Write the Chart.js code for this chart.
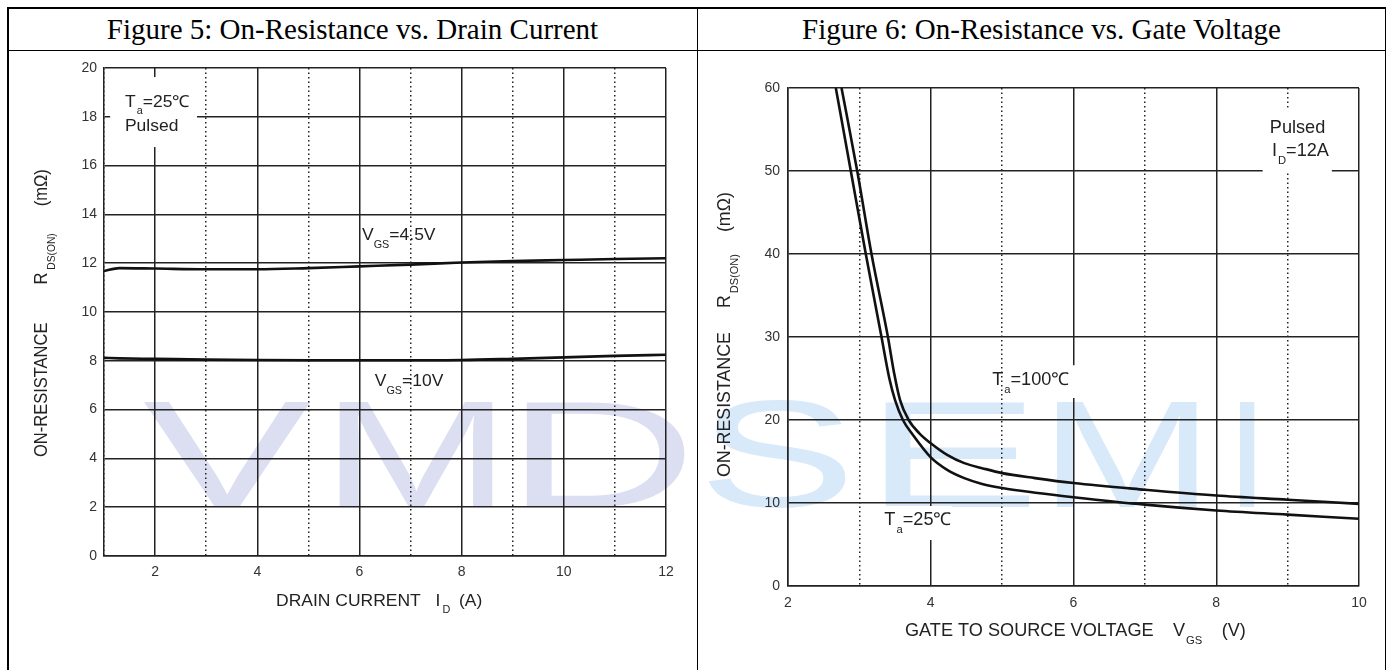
<!DOCTYPE html>
<html>
<head>
<meta charset="utf-8">
<script src="https://cdn.jsdelivr.net/npm/chart.js@4.4.0/dist/chart.umd.min.js"></script>
<style>
  html, body { margin: 0; padding: 0; background: #fff; width: 1391px; height: 670px; overflow: hidden; }
  .line { position: absolute; background: #000; }
  .head { position: absolute; top: 8px; height: 42px; line-height: 42px; text-align: center;
          font-family: "Liberation Serif", "Times New Roman", serif; font-size: 29px; color: #000; z-index: 2; }
  .wm { position: absolute; top: 378px; font-family: "Liberation Sans", Arial, sans-serif; font-size: 152px;
        line-height: 152px; transform-origin: 0 0; z-index: 0; }
  .box { position: absolute; top: 51px; z-index: 1; }
</style>
</head>
<body>

<!-- watermark behind the charts -->
<div class="wm" style="left:143px;color:#dcdef2;transform:scaleX(1.66)">V</div>
<div class="wm" style="left:321px;color:#dcdef2;transform:scaleX(1.5)">M</div>
<div class="wm" style="left:505px;color:#dcdef2;transform:scaleX(1.75)">D</div>
<div class="wm" style="left:698px;color:#d8e9f9;transform:scaleX(1.56)">S</div>
<div class="wm" style="left:864px;color:#d8e9f9;transform:scaleX(1.74)">E</div>
<div class="wm" style="left:1040px;color:#d8e9f9;transform:scaleX(1.37)">M</div>
<div class="wm" style="left:1226px;color:#d8e9f9">I</div>

<!-- table frame -->
<div class="line" style="left:7px;top:7px;width:1379px;height:1.5px"></div>
<div class="line" style="left:7px;top:49.5px;width:1379px;height:1.5px"></div>
<div class="line" style="left:7px;top:7px;width:1.5px;height:663px"></div>
<div class="line" style="left:696.5px;top:7px;width:1.5px;height:663px"></div>
<div class="line" style="left:1384.5px;top:7px;width:1.5px;height:663px"></div>

<div class="head" style="left:8px;width:689px">Figure 5: On-Resistance vs. Drain Current</div>
<div class="head" style="left:698px;width:687px">Figure 6: On-Resistance vs. Gate Voltage</div>

<div class="box" style="left:8px"><canvas id="fig5" width="688" height="619"></canvas></div>
<div class="box" style="left:698px"><canvas id="fig6" width="686" height="619"></canvas></div>

<script>
// Figure 5: R_DS(on) vs drain current (Ta = 25C, pulsed)
const drainCurrent = [1, 1.3, 2, 3, 4, 5, 6, 7, 8, 9, 10, 11, 12];
const rdsVgs45 = [11.68, 11.8, 11.78, 11.75, 11.75, 11.8, 11.87, 11.94, 12.03, 12.09, 12.13, 12.17, 12.2];
const rdsVgs10 = [8.12, 8.1, 8.08, 8.05, 8.03, 8.02, 8.02, 8.02, 8.03, 8.08, 8.14, 8.2, 8.25];

// Figure 6: R_DS(on) vs gate voltage (ID = 12A, pulsed)
const vgs25 = [2.67, 2.88, 3.09, 3.31, 3.42, 3.50, 3.61, 3.75, 4.0, 4.23, 4.47, 4.72, 5.0, 5.5, 6.0, 7.0, 8.0, 9.0, 10.0];
const rds25 = [60, 50, 40, 30, 25, 22.4, 20, 18.2, 15.5, 14.0, 13.0, 12.3, 11.8, 11.2, 10.7, 9.8, 9.1, 8.6, 8.1];
const vgs100 = [2.75, 2.97, 3.17, 3.40, 3.49, 3.57, 3.69, 3.84, 4.0, 4.23, 4.47, 4.72, 5.0, 5.46, 6.0, 7.0, 8.0, 9.0, 10.0];
const rds100 = [60, 50, 40, 30, 25.5, 22.4, 20, 18.4, 17.2, 15.8, 14.8, 14.2, 13.6, 13.0, 12.4, 11.6, 10.9, 10.4, 9.9];

const fig5XTicks = [2, 4, 6, 8, 10, 12];
const fig6XTicks = [2, 4, 6, 8, 10];

const FONT = '"Liberation Sans", Arial, sans-serif';

const toPoints = (xs, ys) => xs.map((x, i) => ({ x: x, y: ys[i] }));
const txt = s => ({ t: s });
const sub = s => ({ t: s, sub: true });
const gap = g => ({ g: g });

// draw text pieces with subscripts, starting at the current origin
function drawRich(ctx, parts, size) {
  let x = 0;
  for (const p of parts) {
    if (p.g) { x += p.g; continue; }
    const fs = p.sub ? size * 0.62 : size;
    ctx.font = fs + 'px ' + FONT;
    ctx.fillText(p.t, x, p.sub ? size * 0.55 : 0);
    x += ctx.measureText(p.t).width;
  }
}

// annotations, white label boxes and axis titles for one chart
function notesPlugin(notes) {
  return {
    id: 'notes',
    afterDraw(chart) {
      const ctx = chart.ctx, xs = chart.scales.x, ys = chart.scales.y;
      ctx.save();
      ctx.fillStyle = '#fff';
      for (const b of notes.boxes) {
        const x1 = xs.getPixelForValue(b[0]), x2 = xs.getPixelForValue(b[1]);
        const y1 = ys.getPixelForValue(b[2]), y2 = ys.getPixelForValue(b[3]);
        ctx.fillRect(x1, y1, x2 - x1, y2 - y1);
      }
      ctx.fillStyle = '#222';
      ctx.textBaseline = 'middle';
      ctx.textAlign = 'left';
      for (const n of notes.labels) {
        ctx.save();
        ctx.translate(xs.getPixelForValue(n.x), ys.getPixelForValue(n.y));
        ctx.scale(notes.stretch, 1);
        drawRich(ctx, n.parts, notes.size);
        ctx.restore();
      }
      ctx.save();
      ctx.translate(notes.xTitle.x, notes.xTitle.y);
      ctx.scale(notes.stretch, 1);
      drawRich(ctx, notes.xTitle.parts, notes.size);
      ctx.restore();
      ctx.save();
      ctx.translate(notes.yTitle.x, notes.yTitle.y);
      ctx.scale(notes.stretch, 1);
      ctx.rotate(-Math.PI / 2);
      drawRich(ctx, notes.yTitle.parts, notes.size);
      ctx.restore();
      ctx.restore();
    }
  };
}

function axis(min, max, step, labels, pad) {
  return {
    type: 'linear', min: min, max: max,
    ticks: {
      stepSize: step, autoSkip: false, maxRotation: 0, padding: pad, color: '#333',
      font: { family: FONT, size: 14 },
      callback: v => (labels === null || labels.includes(v)) ? v : ''
    },
    grid: { color: '#222', lineWidth: 1.5, drawTicks: false },
    border: {
      display: true, color: '#222', width: 1.5,
      dash: c => (c.tick && labels !== null && !labels.includes(c.tick.value)) ? [1.5, 3] : []
    }
  };
}

function curve(points) {
  return {
    data: points, borderColor: '#111', borderWidth: 2.6, pointRadius: 0,
    fill: false, cubicInterpolationMode: 'monotone'
  };
}

function makeChart(id, datasets, xAxis, yAxis, layout, notes) {
  xAxis.afterFit = s => { s.height = layout.xh; };
  yAxis.afterFit = s => { s.width = layout.yw; };
  return new Chart(document.getElementById(id), {
    type: 'line',
    data: { datasets: datasets },
    options: {
      responsive: false, animation: false,
      layout: { padding: { top: layout.top, right: layout.right, left: 0, bottom: 0 } },
      scales: { x: xAxis, y: yAxis },
      plugins: { legend: { display: false }, tooltip: { enabled: false } }
    },
    plugins: [notesPlugin(notes)]
  });
}

makeChart('fig5',
  [curve(toPoints(drainCurrent, rdsVgs45)), curve(toPoints(drainCurrent, rdsVgs10))],
  axis(1, 12, 1, fig5XTicks, 8),
  axis(0, 20, 2, null, 7),
  { xh: 114, yw: 96, top: 17, right: 30 },
  {
    size: 16.5, stretch: 1.06,
    boxes: [[1.12, 2.82, 19.63, 16.76]],
    labels: [
      { x: 1.41, y: 18.6, parts: [txt('T'), gap(1), sub('a'), txt('=25℃')] },
      { x: 1.41, y: 17.6, parts: [txt('Pulsed')] },
      { x: 6.05, y: 13.12, parts: [txt('V'), sub('GS'), txt('=4.5V')] },
      { x: 6.3, y: 7.14, parts: [txt('V'), sub('GS'), txt('=10V')] }
    ],
    xTitle: { x: 268, y: 550, parts: [txt('DRAIN CURRENT'), gap(14), txt('I'), gap(2), sub('D'), gap(8), txt('(A)')] },
    yTitle: { x: 34, y: 406, parts: [txt('ON-RESISTANCE'), gap(38), txt('R'), gap(3), sub('DS(ON)'), gap(27), txt('(mΩ)')] }
  });

makeChart('fig6',
  [curve(toPoints(vgs25, rds25)), curve(toPoints(vgs100, rds100))],
  axis(2, 10, 1, fig6XTicks, 9),
  axis(0, 60, 10, null, 8),
  { xh: 84, yw: 90, top: 37, right: 25 },
  {
    size: 17.8, stretch: 1.02,
    boxes: [[8.65, 9.62, 57.6, 49.8], [5.02, 6.1, 26.6, 22.65], [3.29, 4.3, 9.64, 5.54]],
    labels: [
      { x: 8.75, y: 55.2, parts: [txt('Pulsed')] },
      { x: 8.78, y: 52.4, parts: [txt('I'), gap(1), sub('D'), txt('=12A')] },
      { x: 4.86, y: 24.8, parts: [txt('T'), gap(1), sub('a'), txt('=100℃')] },
      { x: 3.35, y: 7.95, parts: [txt('T'), gap(1), sub('a'), txt('=25℃')] }
    ],
    xTitle: { x: 207, y: 580, parts: [txt('GATE TO SOURCE VOLTAGE'), gap(19), txt('V'), gap(1), sub('GS'), gap(19), txt('(V)')] },
    yTitle: { x: 27, y: 426, parts: [txt('ON-RESISTANCE'), gap(24), txt('R'), gap(2), sub('DS(ON)'), gap(22), txt('(mΩ)')] }
  });
</script>
</body>
</html>
